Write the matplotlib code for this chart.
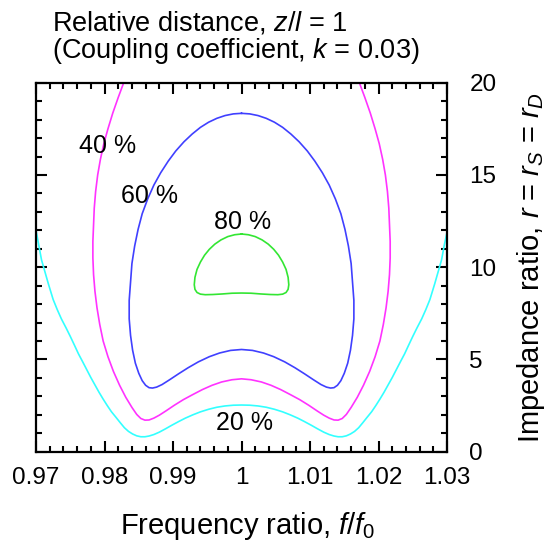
import numpy as np
import matplotlib
matplotlib.use("Agg")
import matplotlib.pyplot as plt

plt.rcParams['font.family'] = ['Liberation Sans', 'DejaVu Sans']
plt.rcParams['mathtext.fontset'] = 'custom'
plt.rcParams['mathtext.rm'] = 'Liberation Sans'
plt.rcParams['mathtext.it'] = 'Liberation Sans:italic'

# traced contour lines: frequency ratio f/f0 (x) and impedance ratio r (y)
# 20 % line (open, runs off both side edges)
f20 = ([0.9700, 0.9704, 0.9708, 0.9713, 0.9718, 0.9725, 0.9731, 0.9737, 0.9744, 0.9750,
        0.9756, 0.9762, 0.9768, 0.9774, 0.9780, 0.9786, 0.9792, 0.9798, 0.9804, 0.9810,
        0.9817, 0.9823, 0.9829, 0.9835, 0.9841, 0.9847, 0.9853, 0.9859, 0.9865, 0.9872,
        0.9880, 0.9889, 0.9898, 0.9908, 0.9918, 0.9929, 0.9940, 0.9952, 0.9964, 0.9976,
        0.9988, 1.0000]
       + [1.0012, 1.0024, 1.0036, 1.0048, 1.0060, 1.0071, 1.0082, 1.0092, 1.0102, 1.0111,
          1.0120, 1.0128, 1.0135, 1.0141, 1.0147, 1.0153, 1.0159, 1.0165, 1.0171, 1.0177,
          1.0183, 1.0190, 1.0196, 1.0202, 1.0208, 1.0214, 1.0220, 1.0226, 1.0232, 1.0238,
          1.0244, 1.0250, 1.0256, 1.0263, 1.0269, 1.0275, 1.0282, 1.0287, 1.0292, 1.0296,
          1.0300])
r20 = ([12.0, 11.2, 10.4, 9.75, 9.1, 8.25, 7.7, 7.2, 6.7, 6.25,
        5.78, 5.3, 4.88, 4.45, 4.02, 3.62, 3.22, 2.85, 2.50, 2.17,
        1.85, 1.57, 1.30, 1.10, 0.96, 0.86, 0.81, 0.81, 0.85, 0.93,
        1.06, 1.24, 1.43, 1.63, 1.82, 2.00, 2.16, 2.30, 2.41, 2.48,
        2.52, 2.53]
       + [2.52, 2.48, 2.41, 2.30, 2.16, 2.00, 1.82, 1.63, 1.43, 1.24,
          1.06, 0.93, 0.85, 0.81, 0.81, 0.86, 0.96, 1.10, 1.30, 1.57,
          1.85, 2.17, 2.50, 2.85, 3.22, 3.62, 4.02, 4.45, 4.88, 5.3,
          5.78, 6.25, 6.7, 7.2, 7.7, 8.25, 9.1, 9.75, 10.4, 11.2,
          11.9])

# 40 % line (open, runs off the top edge)
f40 = ([0.9828, 0.9820, 0.9812, 0.9805, 0.9799, 0.9794, 0.9790, 0.9787, 0.9785, 0.9784,
        0.9783, 0.9783, 0.9784, 0.9786, 0.9789, 0.9793, 0.9798, 0.9805, 0.9813, 0.9822,
        0.9831, 0.9840, 0.9847, 0.9853, 0.9859, 0.9865, 0.9872, 0.9880, 0.9890, 0.9902,
        0.9915, 0.9929, 0.9943, 0.9957, 0.9971, 0.9986, 1.0000]
       + [1.0014, 1.0029, 1.0043, 1.0057, 1.0071, 1.0085, 1.0098, 1.0110, 1.0120, 1.0128,
          1.0135, 1.0141, 1.0147, 1.0153, 1.0160, 1.0169, 1.0178, 1.0187, 1.0195, 1.0202,
          1.0207, 1.0211, 1.0214, 1.0216, 1.0217, 1.0217, 1.0216, 1.0215, 1.0213, 1.0210,
          1.0206, 1.0201, 1.0195, 1.0188, 1.0180, 1.0172])
r40 = ([20.0, 19.2, 18.35, 17.5, 16.7, 15.85, 15.0, 14.1, 13.2, 12.3,
        11.4, 10.5, 9.6, 8.7, 7.8, 6.9, 6.0, 5.15, 4.35, 3.6,
        2.95, 2.40, 2.02, 1.80, 1.71, 1.72, 1.82, 1.98, 2.22, 2.52,
        2.82, 3.10, 3.37, 3.60, 3.78, 3.90, 3.95]
       + [3.90, 3.78, 3.60, 3.37, 3.10, 2.82, 2.52, 2.22, 1.98, 1.82,
          1.72, 1.71, 1.80, 2.02, 2.40, 2.95, 3.6, 4.35, 5.15, 6.0,
          6.9, 7.8, 8.7, 9.6, 10.5, 11.4, 12.3, 13.2, 14.1, 15.0,
          15.85, 16.7, 17.5, 18.35, 19.2, 20.0])

# 60 % line (closed)
f60 = ([1.0000, 0.9988, 0.9976, 0.9964, 0.9952, 0.9940, 0.9928, 0.9916, 0.9904, 0.9893,
        0.9882, 0.9872, 0.9863, 0.9855, 0.9849, 0.9844, 0.9840, 0.9838, 0.9836, 0.9836,
        0.9838, 0.9841, 0.9845, 0.9850, 0.9855, 0.9860, 0.9865, 0.9870, 0.9876, 0.9884,
        0.9895, 0.9908, 0.9922, 0.9937, 0.9953, 0.9968, 0.9984, 1.0000]
       + [1.0016, 1.0032, 1.0047, 1.0063, 1.0078, 1.0092, 1.0105, 1.0116, 1.0124, 1.0130,
          1.0135, 1.0140, 1.0145, 1.0150, 1.0155, 1.0159, 1.0162, 1.0164, 1.0164, 1.0162,
          1.0160, 1.0156, 1.0151, 1.0145, 1.0137, 1.0128, 1.0118, 1.0107, 1.0096, 1.0084,
          1.0072, 1.0060, 1.0048, 1.0036, 1.0024, 1.0012, 1.0000])
r60 = ([18.34, 18.31, 18.22, 18.07, 17.86, 17.58, 17.22, 16.80, 16.30, 15.75,
        15.12, 14.45, 13.70, 12.90, 12.05, 11.15, 10.20, 9.20, 8.20, 7.20,
        6.30, 5.50, 4.80, 4.25, 3.85, 3.60, 3.47, 3.45, 3.50, 3.64,
        3.90, 4.22, 4.55, 4.87, 5.15, 5.35, 5.49, 5.54]
       + [5.49, 5.35, 5.15, 4.87, 4.55, 4.22, 3.90, 3.64, 3.50, 3.45,
          3.47, 3.60, 3.85, 4.25, 4.80, 5.50, 6.30, 7.20, 8.20, 9.20,
          10.20, 11.15, 12.05, 12.90, 13.70, 14.45, 15.12, 15.75, 16.30, 16.80,
          17.22, 17.58, 17.86, 18.07, 18.22, 18.31, 18.34])

# 80 % line (closed)
f80 = ([1.0000, 0.9990, 0.9980, 0.9970, 0.9961, 0.9953, 0.9946, 0.9940, 0.9935, 0.9932,
        0.9931, 0.9932, 0.9935, 0.9940, 0.9947, 0.9958, 0.9972, 0.9986, 1.0000]
       + [1.0014, 1.0028, 1.0042, 1.0053, 1.0060, 1.0065, 1.0068, 1.0069, 1.0068, 1.0065,
          1.0060, 1.0054, 1.0047, 1.0039, 1.0030, 1.0020, 1.0010, 1.0000])
r80 = ([11.80, 11.76, 11.66, 11.48, 11.25, 10.97, 10.65, 10.28, 9.88, 9.45,
        9.05, 8.80, 8.63, 8.54, 8.51, 8.52, 8.55, 8.59, 8.60]
       + [8.59, 8.55, 8.52, 8.51, 8.54, 8.63, 8.80, 9.05, 9.45, 9.88,
          10.28, 10.65, 10.97, 11.25, 11.48, 11.66, 11.76, 11.80])

labels = ['20 %', '40 %', '60 %', '80 %']
label_f = [1.0005, 0.9804, 0.9866, 1.0002]
label_r = [1.55, 16.55, 13.85, 12.45]

xticks = [0.97, 0.98, 0.99, 1.00, 1.01, 1.02, 1.03]
xticklabels = ['0.97', '0.98', '0.99', '1', '1.01', '1.02', '1.03']
yticks = [0, 5, 10, 15, 20]

fig = plt.figure(figsize=(5.5, 5.42), dpi=100)
ax = fig.add_axes([0.0655, 0.1666, 0.7473, 0.6808])

ax.plot(f20, r20, color='#33ffff', lw=1.2)
ax.plot(f40, r40, color='#ff33ff', lw=1.2)
ax.plot(f60, r60, color='#4040ff', lw=1.2)
ax.plot(f80, r80, color='#33e633', lw=1.2)

for t, x, y in zip(labels, label_f, label_r):
    ax.text(x, y, t, ha='center', va='center', fontsize=18)

ax.set_xlim(0.97, 1.03)
ax.set_ylim(0, 20)
ax.set_xticks(xticks)
ax.set_xticklabels(xticklabels)
ax.set_yticks(yticks)
ax.set_xticks(np.arange(0.97, 1.0301, 0.002), minor=True)
ax.set_yticks(np.arange(0, 20.1, 1), minor=True)
ax.tick_params(which='both', direction='in', top=True, right=True, width=1.5)
ax.tick_params(which='major', length=8)
ax.tick_params(which='minor', length=4.5)
ax.tick_params(axis='x', labelsize=17.5, pad=11)
ax.tick_params(axis='y', labelsize=17.5, pad=16, labelleft=False, labelright=True)
for s in ax.spines.values():
    s.set_linewidth(1.6)

fig.text(0.0945, 0.943, r'Relative distance, $\it{z/l}$ = 1', fontsize=19.5, va='baseline')
fig.text(0.0945, 0.8935, r'(Coupling coefficient, $\it{k}$ = 0.03)', fontsize=19.5, va='baseline')
fig.text(0.451, 0.014, r'Frequency ratio, $\it{f/f_0}$', fontsize=21, ha='center', va='baseline')
fig.text(0.9655, 0.507, r'Impedance ratio, $\it{r}$ = $\it{r_S}$ = $\it{r_D}$', fontsize=21,
         ha='center', va='center', rotation=90)
fig.text(0.46, -0.03, '(b)', fontsize=16, family='Liberation Serif', weight='bold',
         ha='center', va='baseline')

fig.savefig('out.png', dpi=100)
